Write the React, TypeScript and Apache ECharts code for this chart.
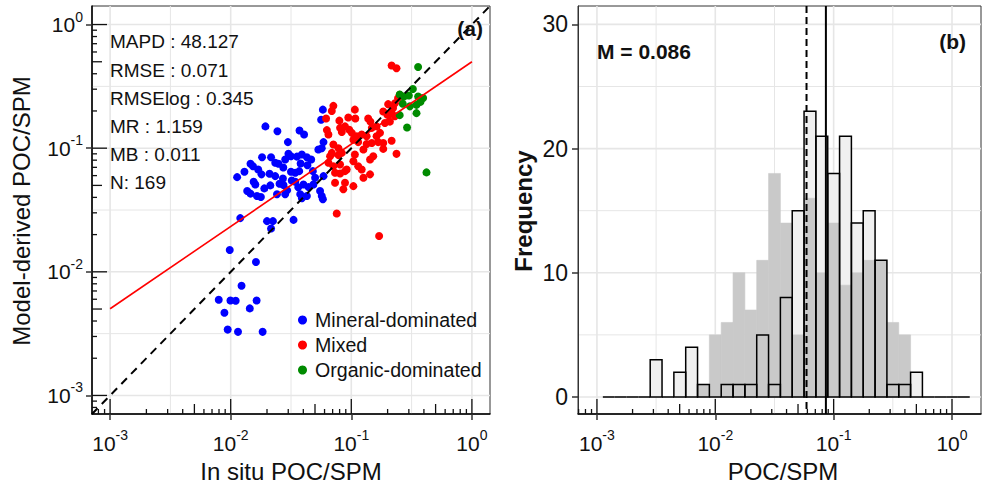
import React, { useEffect, useRef } from "react";
import * as echarts from "echarts";

// ---------- Panel (a): in situ (x) vs model-derived (y) POC/SPM ----------
const mineralX = [0.0194, 0.0244, 0.0372, 0.0406, 0.0298, 0.0581, 0.0562, 0.0588, 0.0569, 0.0301, 0.0316, 0.0354, 0.0428, 0.0389, 0.0182, 0.0216, 0.0234, 0.0249, 0.0146, 0.0153, 0.013, 0.0113, 0.021, 0.0234, 0.0271, 0.0316, 0.0343, 0.037, 0.0433, 0.048, 0.0155, 0.016, 0.0254, 0.0274, 0.0321, 0.0343, 0.0137, 0.0146, 0.0165, 0.0178, 0.0401, 0.0442, 0.0485, 0.0377, 0.0428, 0.0501, 0.0551, 0.0569, 0.0588, 0.0242, 0.0283, 0.0389, 0.0581, 0.012, 0.02, 0.0224, 0.0216, 0.0332, 0.00982, 0.0162, 0.0123, 0.00796, 0.00995, 0.011, 0.0164, 0.00887, 0.0144, 0.00944, 0.0115, 0.0184, 0.019, 0.0294, 0.0533, 0.0465, 0.0273, 0.018, 0.038, 0.0283, 0.0169, 0.0363, 0.0213];
const mineralY = [0.15, 0.137, 0.139, 0.129, 0.112, 0.205, 0.17, 0.112, 0.1, 0.09, 0.0861, 0.0855, 0.0845, 0.0889, 0.0845, 0.0845, 0.0762, 0.0748, 0.0748, 0.0715, 0.0644, 0.0583, 0.0621, 0.0594, 0.0569, 0.0644, 0.0632, 0.0652, 0.0728, 0.0652, 0.0536, 0.0509, 0.0516, 0.0504, 0.0548, 0.0536, 0.045, 0.0429, 0.041, 0.0403, 0.0509, 0.0484, 0.0509, 0.0424, 0.041, 0.0577, 0.045, 0.041, 0.0594, 0.0424, 0.0424, 0.0394, 0.0386, 0.0272, 0.0257, 0.0257, 0.0224, 0.0263, 0.015, 0.012, 0.00771, 0.00594, 0.00586, 0.00583, 0.00586, 0.00467, 0.00506, 0.00341, 0.00327, 0.00327, 0.0473, 0.0456, 0.0975, 0.0809, 0.0698, 0.0614, 0.0752, 0.0809, 0.0673, 0.0482, 0.05];

const mixedX = [0.216, 0.237, 0.071, 0.0689, 0.107, 0.0618, 0.108, 0.0944, 0.0796, 0.0887, 0.0962, 0.138, 0.144, 0.202, 0.222, 0.23, 0.244, 0.252, 0.184, 0.199, 0.216, 0.23, 0.209, 0.19, 0.0627, 0.0646, 0.0807, 0.0834, 0.101, 0.111, 0.122, 0.134, 0.148, 0.162, 0.162, 0.173, 0.104, 0.114, 0.134, 0.148, 0.167, 0.184, 0.216, 0.071, 0.0782, 0.0689, 0.0834, 0.107, 0.126, 0.184, 0.237, 0.0667, 0.0782, 0.104, 0.114, 0.122, 0.143, 0.152, 0.0646, 0.071, 0.0807, 0.0916, 0.0733, 0.0807, 0.0887, 0.126, 0.143, 0.0733, 0.0887, 0.0859, 0.104, 0.0757, 0.17];
const mixedY = [0.467, 0.443, 0.22, 0.2, 0.205, 0.174, 0.174, 0.177, 0.167, 0.15, 0.141, 0.174, 0.164, 0.227, 0.211, 0.231, 0.254, 0.27, 0.198, 0.186, 0.192, 0.181, 0.164, 0.16, 0.14, 0.129, 0.146, 0.135, 0.133, 0.125, 0.129, 0.125, 0.146, 0.15, 0.125, 0.133, 0.117, 0.112, 0.108, 0.11, 0.112, 0.11, 0.115, 0.107, 0.1, 0.0916, 0.0916, 0.0889, 0.0975, 0.0987, 0.09, 0.0861, 0.0879, 0.0785, 0.0715, 0.0673, 0.0809, 0.0861, 0.0762, 0.0715, 0.0738, 0.0673, 0.0632, 0.0625, 0.0652, 0.0577, 0.0614, 0.0526, 0.0526, 0.0465, 0.0493, 0.0296, 0.0195];

const organicX = [0.358, 0.324, 0.252, 0.273, 0.3, 0.358, 0.394, 0.375, 0.347, 0.306, 0.252, 0.347, 0.29, 0.42, 0.267];
const organicY = [0.453, 0.301, 0.272, 0.262, 0.267, 0.262, 0.255, 0.237, 0.224, 0.218, 0.185, 0.192, 0.147, 0.0637, 0.229];

const seriesNames = ["Mineral-dominated", "Mixed", "Organic-dominated"];
const seriesColors = ["#0000ff", "#ff0000", "#008b00"];

// regression line in log10 space: log10(y) = intercept + slope * log10(x)
const fitSlope = 0.666;
const fitIntercept = -0.301;
const fitXRange = [0.001, 1];

const statLabels = ["MAPD : 48.127", "RMSE : 0.071", "RMSElog : 0.345", "MR : 1.159", "MB : 0.011", "N: 169"];

// ---------- Panel (b): histograms (bin centres in log10 POC/SPM) ----------
const binCentersLog = [-2.9, -2.8, -2.7, -2.6, -2.5, -2.4, -2.3, -2.2, -2.1, -2.0, -1.9, -1.8, -1.7, -1.6, -1.5, -1.4, -1.3, -1.2, -1.1, -1.0, -0.9, -0.8, -0.7, -0.6, -0.5, -0.4, -0.3, -0.2, -0.1, 0.0, 0.1];
const inSituCounts = [0, 0, 0, 0, 0, 0, 0, 0, 1, 5, 6, 10, 7, 11, 18, 14, 5, 16, 10, 14, 9, 10, 11, 11, 6, 5, 0, 0, 0, 0, 0];
const modelCounts = [0, 0, 0, 0, 3, 0, 2, 4, 1, 0, 1, 1, 1, 5, 1, 8, 15, 23, 21, 18, 21, 14, 15, 11, 1, 1, 2, 0, 0, 0, 0];
const binWidthLog = 0.1;
const medianModel = 0.086;
const medianInSitu = 0.059;

// ---------- axis ticks ----------
const decadeTicks = [-3, -2, -1, 0];
const logGrid = [-3, -2.5, -2, -1.5, -1, -0.5, 0];
const freqTicks = [0, 10, 20, 30];
const freqGrid = [0, 5, 10, 15, 20, 25, 30];

const LEFT_RANGE = [-3.15, 0.15];
const RIGHT_X_RANGE = [-3.16, 0.245];
const FREQ_RANGE = [-1.37, 31.48];

const FONT = "'Liberation Sans', Arial, Helvetica, sans-serif";
const TXT = "#111111";

const toLogPairs = (xs: number[], ys: number[]) => xs.map((x, i) => [Math.log10(x), Math.log10(ys[i])]);

const logTickItems = (range: number[], dir: number, other: number) => {
  const out: number[][] = [];
  for (let d = -4; d <= 1; d++) {
    for (let k = 1; k <= 9; k++) {
      const v = d + Math.log10(k);
      if (v < range[0] || v > range[1]) continue;
      const len = k === 1 ? 15 : k === 5 ? 10 : 5;
      out.push(dir === 0 ? [v, other, 0, len] : [other, v, 1, len]);
    }
  }
  return out;
};

const renderGridLine = (params: any, api: any) => {
  const cs = params.coordSys;
  const p = api.coord([api.value(0), api.value(1)]);
  const major = api.value(3) === 1;
  const style = { stroke: "#e6e6e6", lineWidth: major ? 1.6 : 1 };
  if (api.value(2) === 0) {
    return { type: "line", shape: { x1: p[0], y1: cs.y, x2: p[0], y2: cs.y + cs.height }, style };
  }
  return { type: "line", shape: { x1: cs.x, y1: p[1], x2: cs.x + cs.width, y2: p[1] }, style };
};

const renderLogTick = (params: any, api: any) => {
  const cs = params.coordSys;
  const p = api.coord([api.value(0), api.value(1)]);
  const len = api.value(3);
  const style = { stroke: "#111", lineWidth: 1.3 };
  if (api.value(2) === 0) {
    const yb = cs.y + cs.height;
    return { type: "line", shape: { x1: p[0], y1: yb, x2: p[0], y2: yb - len }, style };
  }
  return { type: "line", shape: { x1: cs.x, y1: p[1], x2: cs.x + len, y2: p[1] }, style };
};

const histRenderer = (kind: "fill" | "gray" | "outline") => (params: any, api: any) => {
  const c = api.value(0);
  const n = api.value(1);
  if (kind !== "outline" && n === 0) return null;
  const p0 = api.coord([c - binWidthLog / 2, n]);
  const p1 = api.coord([c + binWidthLog / 2, 0]);
  const shape = { x: p0[0], y: p0[1], width: p1[0] - p0[0], height: p1[1] - p0[1] };
  let style: any;
  if (kind === "fill") style = { fill: "#f0f0f0" };
  else if (kind === "gray") style = { fill: "#c9c9c9", stroke: "#c9c9c9", lineWidth: 0.6 };
  else style = { fill: "none", stroke: "#000", lineWidth: 1.5 };
  return { type: "rect", shape, style };
};

const renderVLine = (params: any, api: any) => {
  const cs = params.coordSys;
  const p = api.coord([api.value(0), api.value(1)]);
  const dashed = api.value(2) === 1;
  return {
    type: "line",
    shape: { x1: p[0], y1: cs.y, x2: p[0], y2: cs.y + cs.height },
    style: { stroke: "#000", lineWidth: 2, lineDash: dashed ? [7, 4] : null },
  };
};

const powFormatter = (v: number) => `{b|10}{s|${Math.round(v)}}`;
const powRich = {
  b: { fontSize: 21, fontFamily: FONT, color: TXT },
  s: { fontSize: 14, fontFamily: FONT, color: TXT, padding: [0, 0, 16, 0] },
};

const buildOption = () => {
  const histIn = binCentersLog.map((c, i) => [c, inSituCounts[i]]);
  const histModel = binCentersLog.map((c, i) => [c, modelCounts[i]]);
  const gridA = [
    ...logGrid.map((v) => [v, LEFT_RANGE[0], 0, Number.isInteger(v) ? 1 : 0]),
    ...logGrid.map((v) => [LEFT_RANGE[0], v, 1, Number.isInteger(v) ? 1 : 0]),
  ];
  const gridB = [
    ...logGrid.map((v) => [v, FREQ_RANGE[0], 0, Number.isInteger(v) ? 1 : 0]),
    ...freqGrid.map((v) => [RIGHT_X_RANGE[0], v, 1, v % 10 === 0 ? 1 : 0]),
  ];
  const ticksA = [...logTickItems(LEFT_RANGE, 0, LEFT_RANGE[0]), ...logTickItems(LEFT_RANGE, 1, LEFT_RANGE[0])];
  const ticksB = logTickItems(RIGHT_X_RANGE, 0, FREQ_RANGE[0]);
  const lx0 = Math.log10(fitXRange[0]);
  const lx1 = Math.log10(fitXRange[1]);
  const fitData = [
    [lx0, fitIntercept + fitSlope * lx0],
    [lx1, fitIntercept + fitSlope * lx1],
  ];
  const scatterData = [toLogPairs(mineralX, mineralY), toLogPairs(mixedX, mixedY), toLogPairs(organicX, organicY)];

  const logAxisCommon = {
    type: "value",
    axisLine: { show: true, onZero: false, lineStyle: { color: "#000", width: 1.5 } },
    axisTick: { show: true, customValues: decadeTicks, length: 6, lineStyle: { color: "#333", width: 1.5 } },
    splitLine: { show: false },
  };

  return {
    animation: false,
    backgroundColor: "#ffffff",
    grid: [
      { left: 92, top: 6, width: 398, height: 408, show: true, borderColor: "#333", borderWidth: 1, backgroundColor: "transparent" },
      { left: 578, top: 6, width: 403, height: 408, show: true, borderColor: "#333", borderWidth: 1, backgroundColor: "transparent" },
    ],
    xAxis: [
      {
        ...logAxisCommon, gridIndex: 0, min: LEFT_RANGE[0], max: LEFT_RANGE[1],
        axisLabel: { customValues: decadeTicks, formatter: powFormatter, rich: powRich, margin: 14 },
      },
      {
        ...logAxisCommon, gridIndex: 1, min: RIGHT_X_RANGE[0], max: RIGHT_X_RANGE[1],
        axisLabel: { customValues: decadeTicks, formatter: powFormatter, rich: powRich, margin: 14 },
      },
    ],
    yAxis: [
      {
        ...logAxisCommon, gridIndex: 0, min: LEFT_RANGE[0], max: LEFT_RANGE[1],
        axisLabel: { customValues: decadeTicks, formatter: powFormatter, rich: powRich, margin: 9 },
      },
      {
        type: "value", gridIndex: 1, min: FREQ_RANGE[0], max: FREQ_RANGE[1],
        axisLine: { show: true, onZero: false, lineStyle: { color: "#333", width: 1 } },
        axisTick: { show: true, customValues: freqTicks, length: 6, lineStyle: { color: "#333", width: 1.5 } },
        axisLabel: { customValues: freqTicks, fontSize: 23, fontFamily: FONT, color: TXT, margin: 10 },
        splitLine: { show: false },
      },
    ],
    legend: {
      data: seriesNames,
      orient: "vertical",
      left: 298,
      top: 310,
      padding: 0,
      itemWidth: 9,
      itemHeight: 9,
      itemGap: 5,
      icon: "circle",
      selectedMode: false,
      textStyle: { fontSize: 19.6, fontFamily: FONT, color: TXT, lineHeight: 20, padding: [0, 0, 0, 3] },
    },
    graphic: [
      {
        type: "text", x: 110, y: 27.9, silent: true, z: 100,
        style: { text: statLabels.join("\n"), fontSize: 19, fontFamily: FONT, fill: TXT, lineHeight: 28.2, align: "left", verticalAlign: "top" },
      },
      { type: "text", x: 483, y: 28, silent: true, z: 100, style: { text: "(a)", fontSize: 21, fontWeight: "bold", fontFamily: FONT, fill: TXT, align: "right", verticalAlign: "middle" } },
      { type: "text", x: 966, y: 41, silent: true, z: 100, style: { text: "(b)", fontSize: 21, fontWeight: "bold", fontFamily: FONT, fill: TXT, align: "right", verticalAlign: "middle" } },
      { type: "text", x: 597, y: 51, silent: true, z: 100, style: { text: `M = ${medianModel.toFixed(3)}`, fontSize: 21, fontWeight: "bold", fontFamily: FONT, fill: TXT, align: "left", verticalAlign: "middle" } },
      { type: "text", x: 21.5, y: 211, rotation: Math.PI / 2, silent: true, style: { text: "Model-derived POC/SPM", fontSize: 24, fontFamily: FONT, fill: TXT, align: "center", verticalAlign: "middle" } },
      { type: "text", x: 291, y: 471, silent: true, style: { text: "In situ POC/SPM", fontSize: 24, fontFamily: FONT, fill: TXT, align: "center", verticalAlign: "middle" } },
      { type: "text", x: 523, y: 211, rotation: Math.PI / 2, silent: true, style: { text: "Frequency", fontSize: 24, fontWeight: "bold", fontFamily: FONT, fill: TXT, align: "center", verticalAlign: "middle" } },
      { type: "text", x: 783, y: 471, silent: true, style: { text: "POC/SPM", fontSize: 24, fontFamily: FONT, fill: TXT, align: "center", verticalAlign: "middle" } },
    ],
    series: [
      { type: "custom", xAxisIndex: 0, yAxisIndex: 0, data: gridA, renderItem: renderGridLine, z: 0, silent: true },
      { type: "custom", xAxisIndex: 1, yAxisIndex: 1, data: gridB, renderItem: renderGridLine, z: 0, silent: true },
      ...seriesNames.map((name, i) => ({
        type: "scatter", name, xAxisIndex: 0, yAxisIndex: 0, data: scatterData[i], symbol: "circle", symbolSize: 8,
        itemStyle: { color: seriesColors[i], opacity: 1 }, z: 3, silent: true,
      })),
      { type: "line", xAxisIndex: 0, yAxisIndex: 0, data: fitData, symbol: "none", lineStyle: { color: "#ff0000", width: 1.6 }, z: 4, silent: true },
      {
        type: "line", xAxisIndex: 0, yAxisIndex: 0,
        data: [[LEFT_RANGE[0], LEFT_RANGE[0]], [LEFT_RANGE[1], LEFT_RANGE[1]]],
        symbol: "none", lineStyle: { color: "#000", width: 2, type: [8, 6] }, z: 5, silent: true,
      },
      { type: "custom", xAxisIndex: 0, yAxisIndex: 0, data: ticksA, renderItem: renderLogTick, z: 6, silent: true },
      { type: "custom", xAxisIndex: 1, yAxisIndex: 1, data: histModel, renderItem: histRenderer("fill"), z: 2, silent: true },
      { type: "custom", xAxisIndex: 1, yAxisIndex: 1, data: histIn, renderItem: histRenderer("gray"), z: 3, silent: true },
      { type: "custom", xAxisIndex: 1, yAxisIndex: 1, data: histModel, renderItem: histRenderer("outline"), z: 4, silent: true },
      {
        type: "custom", xAxisIndex: 1, yAxisIndex: 1,
        data: [[Math.log10(medianModel), FREQ_RANGE[0], 0], [Math.log10(medianInSitu), FREQ_RANGE[0], 1]],
        renderItem: renderVLine, z: 5, silent: true,
      },
      { type: "custom", xAxisIndex: 1, yAxisIndex: 1, data: ticksB, renderItem: renderLogTick, z: 6, silent: true },
    ],
  };
};

export default function App() {
  const ref = useRef<HTMLDivElement>(null);
  useEffect(() => {
    if (!ref.current) return;
    const chart = echarts.init(ref.current, null, { renderer: "svg" });
    chart.setOption(buildOption() as any);
    return () => chart.dispose();
  }, []);
  return <div ref={ref} style={{ position: "absolute", left: 0, top: 0, width: 982, height: 486 }} />;
}
